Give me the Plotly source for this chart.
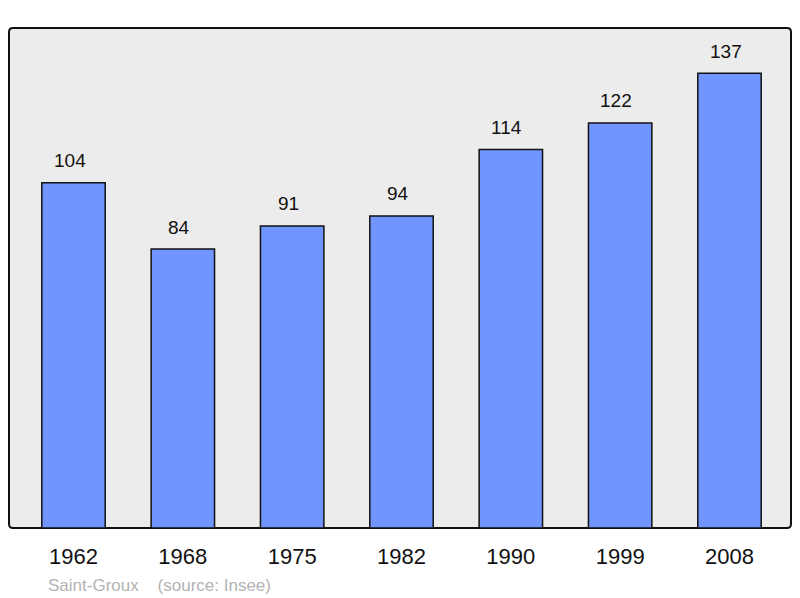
import plotly.graph_objects as go

years = ["1962", "1968", "1975", "1982", "1990", "1999", "2008"]
population = [104, 84, 91, 94, 114, 122, 137]
source_text = "Saint-Groux    (source: Insee)"

W, H = 800, 598
L, R, T, B = 9, 9, 28, 70
pw, ph = W - L - R, H - T - B

fig = go.Figure()
fig.add_trace(go.Bar(
    x=list(range(len(years))), y=population,
    width=0.58,
    marker=dict(color="#7095ff", line=dict(color="#111111", width=1.5)),
    hoverinfo="skip",
))

for i, v in enumerate(population):
    fig.add_annotation(x=i, y=v, text=str(v), showarrow=False,
                       yshift=22, xshift=-4, font=dict(size=19, color="#111111",
                                            family="Liberation Sans, Arial, sans-serif"))

fig.add_annotation(xref="paper", yref="paper", x=(46 - L) / pw, y=-(585 - 528) / ph,
                   xanchor="left", yanchor="middle", text=source_text, showarrow=False,
                   font=dict(size=17, color="#b3b3b3", family="Liberation Sans, Arial, sans-serif"))

# rounded frame
r = 4
rx, ry = r / pw, r / ph
path = (f"M {rx},0 L {1-rx},0 Q 1,0 1,{ry} L 1,{1-ry} Q 1,1 {1-rx},1 "
        f"L {rx},1 Q 0,1 0,{1-ry} L 0,{ry} Q 0,0 {rx},0 Z")
fig.add_shape(type="path", path=path, xref="paper", yref="paper",
              fillcolor="#ececec", line=dict(color="#111111", width=2), layer="below")

fig.update_layout(
    width=W, height=H,
    margin=dict(l=L, r=R, t=T, b=B),
    paper_bgcolor="white", plot_bgcolor="rgba(0,0,0,0)",
    showlegend=False,
    font=dict(family="Liberation Sans, Arial, sans-serif"),
)
fig.update_xaxes(range=[-0.59, 6.5625], tickmode="array",
                 tickvals=list(range(len(years))), ticktext=years,
                 tickfont=dict(size=22, color="#111111"),
                 showgrid=False, zeroline=False, showline=False,
                 ticks="outside", ticklen=9, tickcolor="rgba(0,0,0,0)")
fig.update_yaxes(range=[0, 150.6], visible=False, showgrid=False, zeroline=False)

fig.write_html("out.html", config={"displayModeBar": False},
               post_script="document.body.style.margin='0';document.body.style.overflow='hidden';")
